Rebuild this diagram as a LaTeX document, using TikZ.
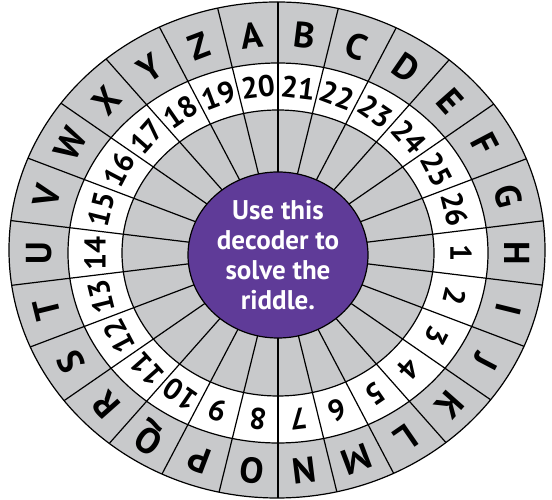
\documentclass[tikz,border=0pt]{standalone}
\usepackage{fontspec}
\setmainfont{PT Sans}
\usetikzlibrary{shapes.geometric}
\definecolor{wheelgray}{HTML}{C8C9CB}
\definecolor{hubpurple}{HTML}{5F3B98}

\begin{document}
\begin{tikzpicture}[x=1pt, y=1pt, line width=1.2pt,
    letterlbl/.style={font=\bfseries\fontsize{36}{36}\selectfont, inner sep=0pt},
    numberlbl/.style={font=\bfseries\fontsize{30}{30}\selectfont, inner sep=0pt},
    hub/.style={ellipse, draw, fill=hubpurple, text=white, minimum width=180, minimum height=166, inner sep=0pt, align=center, font=\bfseries\fontsize{27}{30}\selectfont}]
  \useasboundingbox (0,0) rectangle (552,500);
  \coordinate (c) at (278,247);
  % rings
  \draw[fill=wheelgray] (277,250) ellipse [x radius=268, y radius=248];
  \draw[fill=white] (c) ellipse [x radius=210, y radius=190];
  \draw[fill=wheelgray] (c) ellipse [x radius=156, y radius=143];
  % spokes
  \begin{scope}
    \clip (277,250) ellipse [x radius=268, y radius=248];
    \foreach \k in {0,...,25}
      \draw (c) -- ++({90-\k*360/26}:300);
  \end{scope}
  \node[hub] (hub) at (278,245) {Use this\\decoder to\\solve the\\riddle.};
  % letters and numbers
  \foreach \l [count=\i from 0] in {A,...,Z} {
    \pgfmathsetmacro\t{96.923-\i*13.846}
    \pgfmathsetmacro\rl{239/sqrt(cos(\t)^2+(1.0913*sin(\t))^2)}
    \pgfmathsetmacro\rn{183/sqrt(cos(\t)^2+(1.099*sin(\t))^2)}
    \pgfmathtruncatemacro\n{mod(\i+19,26)+1}
    \node[letterlbl, rotate=\t-90] (l\l) at ([shift={(\t:\rl)}]c) {\l};
    \node[numberlbl, rotate=\t-90] (n\n) at ([shift={(\t:\rn)}]c) {\n};
  }
\end{tikzpicture}
\end{document}
